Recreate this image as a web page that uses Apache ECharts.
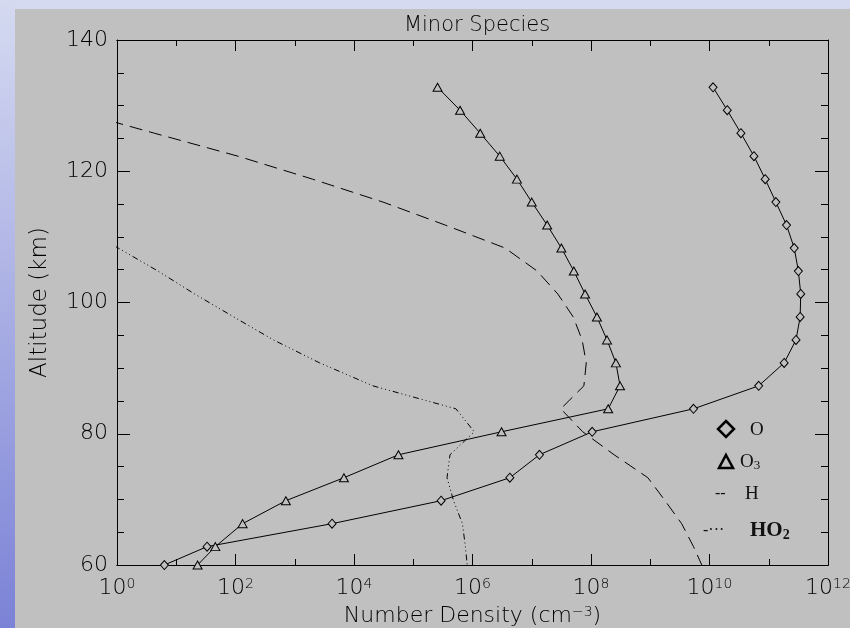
<!DOCTYPE html>
<html><head><meta charset="utf-8">
<script src="https://cdn.jsdelivr.net/npm/echarts@6/dist/echarts.min.js"></script>
<style>
html,body{margin:0;padding:0;width:850px;height:628px;overflow:hidden;background:#d5daf1;}
#side{position:absolute;left:0;top:0;width:15px;height:628px;background:linear-gradient(#d5daf1,#7c82d6);}
#panel{position:absolute;left:15px;top:9px;width:835px;height:619px;background:#c0c0c0;}
#chart{position:absolute;left:0;top:0;width:850px;height:628px;}
</style></head><body>
<div id="side"></div><div id="panel"></div><div id="chart"></div>
<script>
// Altitude grid (km)
const altitudes = [132.8,129.3,125.8,122.3,118.8,115.3,111.8,108.3,104.8,101.3,97.8,94.3,90.8,87.3,83.8,80.3,76.8,73.3,69.8,66.3,62.8,60.0];
// log10 of number density (cm^-3); null = not present
const oLog   = [10.06,10.30,10.53,10.75,10.94,11.12,11.30,11.43,11.50,11.54,11.53,11.46,11.26,10.83,9.73,8.02,7.13,6.63,5.47,3.63,1.52,0.80];
const o3Log  = [5.41,5.79,6.13,6.46,6.75,7.00,7.26,7.50,7.71,7.90,8.10,8.27,8.42,8.49,8.29,6.49,4.75,3.83,2.85,2.12,1.66,1.36];
const hLog   = [null,-0.76,0.63,2.04,3.30,4.49,5.54,6.55,7.09,7.44,7.70,7.85,7.92,7.88,7.49,7.86,8.39,8.96,9.25,9.53,9.73,9.87];
const ho2Log = [null,null,null,null,null,null,-0.66,0.02,0.69,1.31,1.97,2.64,3.42,4.32,5.72,6.03,5.62,5.57,5.68,5.83,5.88,5.91];
const xTickExponents = [0,2,4,6,8,10,12];
const yTicks = [60,80,100,120,140];

function pairs(logs){
  const out=[];
  logs.forEach((v,i)=>{ if(v!==null) out.push([Math.pow(10,v), altitudes[i]]); });
  return out;
}

const chart = echarts.init(document.getElementById('chart'), null, {renderer:'canvas'});
const FONT = 'DejaVu Sans';
const SERIF = 'Liberation Serif';
const TXT = '#000';
const xBase = {
  type:'log', logBase:10, min:1, max:1e12, gridIndex:0,
  axisLine:{show:true, onZero:false, lineStyle:{color:'#000', width:1}},
  splitLine:{show:false}
};
const supStyle = {fontSize:14, fontFamily:FONT, fontWeight:200, color:TXT, verticalAlign:'top', lineHeight:14};
const option = {
  backgroundColor:'transparent',
  animation:false,
  title:{text:'Minor Species', left:472, top:10, textAlign:'center',
    textStyle:{fontFamily:FONT, fontWeight:200, fontSize:21, color:TXT}},
  grid:{left:117, right:22, top:40, bottom:63, containLabel:false, outerBoundsMode:'none'},
  xAxis:[
    Object.assign({}, xBase, {position:'bottom', interval:1,
      axisTick:{show:true, inside:true, length:6, lineStyle:{color:'#000'}},
      axisLabel:{show:true, margin:12, color:TXT, fontFamily:FONT, hideOverlap:false,
        formatter:function(v){ const e=Math.round(Math.log10(v)); if(xTickExponents.indexOf(e)<0) return ''; return '{b|10}{s|'+e+'}'; },
        rich:{b:{fontSize:22, fontFamily:FONT, fontWeight:200, color:TXT}, s:supStyle}},
      name:'Number Density (cm{s|−3})', nameLocation:'middle', nameGap:40,
      nameTextStyle:{fontSize:22, fontFamily:FONT, fontWeight:200, color:TXT, rich:{s:supStyle}}
    }),
    Object.assign({}, xBase, {position:'bottom', interval:2,
      axisTick:{show:true, inside:true, length:11, lineStyle:{color:'#000'}}, axisLabel:{show:false}}),
    Object.assign({}, xBase, {position:'top', interval:1,
      axisTick:{show:true, inside:true, length:6, lineStyle:{color:'#000'}}, axisLabel:{show:false}}),
    Object.assign({}, xBase, {position:'top', interval:2,
      axisTick:{show:true, inside:true, length:11, lineStyle:{color:'#000'}}, axisLabel:{show:false}})
  ],
  yAxis:[
    {type:'value', min:60, max:140, interval:20, position:'left',
      axisLine:{show:true, onZero:false, lineStyle:{color:'#000', width:1}},
      axisTick:{show:true, inside:true, length:13, lineStyle:{color:'#000'}},
      minorTick:{show:true, splitNumber:4, length:7, lineStyle:{color:'#000'}},
      splitLine:{show:false},
      axisLabel:{margin:9, fontSize:22, fontFamily:FONT, fontWeight:200, color:TXT,
        formatter:function(v){ return yTicks.indexOf(v)>=0 ? String(v) : ''; }},
      name:'Altitude (km)', nameLocation:'middle', nameGap:65, nameRotate:90,
      nameTextStyle:{fontSize:23, fontFamily:FONT, fontWeight:200, color:TXT}},
    {type:'value', min:60, max:140, interval:20, position:'right',
      axisLine:{show:true, onZero:false, lineStyle:{color:'#000', width:1}},
      axisTick:{show:true, inside:true, length:13, lineStyle:{color:'#000'}},
      minorTick:{show:true, splitNumber:4, length:7, lineStyle:{color:'#000'}},
      splitLine:{show:false}, axisLabel:{show:false}}
  ],
  series:[
    {name:'O', type:'line', xAxisIndex:0, yAxisIndex:0, data:pairs(oLog),
      symbol:'diamond', symbolSize:[8,9], showAllSymbol:true,
      itemStyle:{color:'#c0c0c0', borderColor:'#000', borderWidth:1},
      lineStyle:{color:'#000', width:1}, clip:true},
    {name:'O3', type:'line', xAxisIndex:0, yAxisIndex:0, data:pairs(o3Log),
      symbol:'triangle', symbolSize:[9,8], showAllSymbol:true,
      itemStyle:{color:'#c0c0c0', borderColor:'#000', borderWidth:1},
      lineStyle:{color:'#000', width:1}, clip:true},
    {name:'H', type:'line', xAxisIndex:0, yAxisIndex:0, data:pairs(hLog),
      symbol:'none', lineStyle:{color:'#000', width:1, type:[13,7]}, clip:true},
    {name:'HO2', type:'line', xAxisIndex:0, yAxisIndex:0, data:pairs(ho2Log),
      symbol:'none', lineStyle:{color:'#000', width:1, type:[6,3,1,3,1,3,1,3]}, clip:true}
  ],
  graphic:[
    {type:'polygon', shape:{points:[[726,421],[734,429],[726,437],[718,429]]}, style:{fill:'none', stroke:'#000', lineWidth:2.5}},
    {type:'text', x:750, y:430, style:{text:'O', font:'19px '+SERIF, fill:'#111', verticalAlign:'middle'}},
    {type:'polygon', shape:{points:[[726,455],[733,468],[719,468]]}, style:{fill:'none', stroke:'#000', lineWidth:2.5}},
    {type:'text', x:740, y:462, style:{text:'{a|O}{s|3}', fill:'#111', verticalAlign:'middle',
      rich:{a:{fontSize:19, fontFamily:SERIF, fill:'#111'}, s:{fontSize:13, fontFamily:SERIF, fill:'#111', verticalAlign:'bottom', padding:[8,0,0,0]}}}},
    {type:'text', x:715, y:494, style:{text:'--', font:'16px '+SERIF, fill:'#111', verticalAlign:'middle'}},
    {type:'text', x:745, y:494, style:{text:'H', font:'19px '+SERIF, fill:'#111', verticalAlign:'middle'}},
    {type:'text', x:703, y:531, style:{text:'-···', font:'16px '+SERIF, fill:'#111', verticalAlign:'middle'}},
    {type:'text', x:750, y:531, style:{text:'{a|HO}{s|2}', fill:'#111', verticalAlign:'middle',
      rich:{a:{fontSize:21, fontFamily:SERIF, fontWeight:'bold', fill:'#111'}, s:{fontSize:14, fontFamily:SERIF, fontWeight:'bold', fill:'#111', verticalAlign:'bottom', padding:[9,0,0,0]}}}}
  ]
};
chart.setOption(option);
</script>
</body></html>
